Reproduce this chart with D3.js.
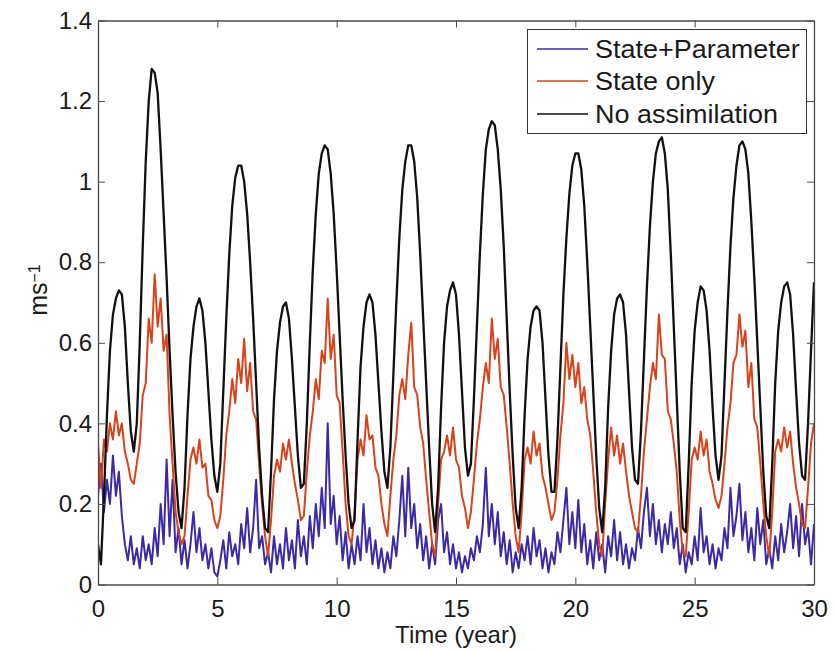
<!DOCTYPE html>
<html>
<head>
<meta charset="utf-8">
<script src="https://cdn.jsdelivr.net/npm/d3@7"></script>
<style>
  html, body { margin: 0; padding: 0; background: #ffffff; }
  svg { display: block; }
  text { font-family: "Liberation Sans", Arial, Helvetica, sans-serif; fill: #1a1a1a; }
</style>
</head>
<body>
<svg id="chart" width="836" height="651"></svg>
<script>
// ---- data (sampled every 1/8 year, 0..30) ----
const seriesNames = ["State+Parameter", "State only", "No assimilation"];
const seriesColors = ["#3b2aa6", "#d9431c", "#111111"];

const stateParam = [
  0.22,0.30,0.18,0.26,0.20,0.32,0.22,0.28,0.17,
  0.10,0.06,0.12,0.05,0.09,0.04,
  0.12,0.06,0.10,0.05,0.14,0.07,0.20,0.10,
  0.31,0.12,0.26,
  0.08,0.14,0.05,0.11,0.04,0.10,
  0.18,0.08,0.14,0.06,0.10,0.04,0.09,0.03,0.02,
  0.06,0.11,0.04,0.13,0.07,0.10,0.05,0.15,
  0.09,0.19,0.08,0.14,0.26,0.09,0.12,0.05,
  0.08,0.03,0.12,0.05,0.10,0.04,0.14,0.06,
  0.11,0.04,0.16,0.07,0.12,0.05,0.17,0.09,
  0.20,0.12,0.24,0.14,0.40,0.15,0.22,0.10,
  0.17,0.06,0.13,0.04,0.10,0.05,0.12,0.06,
  0.20,0.08,0.14,0.05,0.11,0.04,0.09,0.03,
  0.08,0.04,0.12,0.07,0.16,0.27,0.12,0.29,
  0.14,0.20,0.09,0.15,0.06,0.12,0.04,0.10,
  0.05,0.16,0.20,0.08,0.13,0.05,0.10,0.04,
  0.08,0.03,0.07,0.04,0.09,0.06,0.12,0.08,
  0.15,0.29,0.12,0.20,0.10,0.18,0.07,0.13,
  0.05,0.11,0.03,0.08,0.04,0.10,0.06,0.12,
  0.05,0.14,0.07,0.11,0.04,0.09,0.03,0.08,
  0.05,0.13,0.08,0.16,0.24,0.10,0.18,0.09,
  0.21,0.08,0.15,0.05,0.11,0.04,0.13,0.06,
  0.10,0.03,0.12,0.07,0.16,0.06,0.13,0.05,
  0.10,0.04,0.09,0.06,0.14,0.09,0.18,0.24,
  0.12,0.20,0.10,0.16,0.08,0.15,0.10,0.18,
  0.09,0.14,0.05,0.10,0.03,0.08,0.05,0.12,
  0.06,0.19,0.08,0.12,0.05,0.10,0.04,0.09,
  0.06,0.14,0.09,0.24,0.12,0.17,0.25,0.11,
  0.18,0.08,0.14,0.06,0.19,0.10,0.16,0.05,
  0.09,0.04,0.12,0.06,0.15,0.08,0.13,0.20,
  0.09,0.17,0.07,0.20,0.10,0.14,0.05,0.15
];

const stateOnly = [
  0.35,0.24,0.36,0.33,0.40,0.36,0.43,0.37,
  0.40,0.33,0.30,0.26,0.25,0.30,0.35,0.47,
  0.50,0.66,0.60,0.77,0.64,0.71,0.58,0.62,
  0.42,0.30,0.18,0.13,0.10,0.12,0.22,0.31,
  0.34,0.30,0.36,0.29,0.30,0.22,0.21,0.16,
  0.14,0.17,0.26,0.37,0.43,0.51,0.45,0.56,
  0.50,0.61,0.48,0.55,0.43,0.41,0.30,0.20,
  0.12,0.07,0.16,0.27,0.31,0.28,0.35,0.31,
  0.36,0.30,0.25,0.21,0.16,0.17,0.28,0.37,
  0.43,0.51,0.46,0.58,0.55,0.71,0.56,0.62,
  0.47,0.45,0.33,0.20,0.12,0.10,0.18,0.31,
  0.36,0.32,0.42,0.36,0.37,0.29,0.27,0.20,
  0.15,0.12,0.22,0.31,0.37,0.47,0.51,0.46,
  0.57,0.65,0.49,0.47,0.39,0.35,0.26,0.18,
  0.10,0.07,0.20,0.31,0.33,0.37,0.32,0.39,
  0.31,0.29,0.22,0.19,0.14,0.18,0.26,0.35,
  0.41,0.49,0.55,0.50,0.66,0.56,0.61,0.49,
  0.47,0.39,0.30,0.20,0.12,0.08,0.18,0.31,
  0.34,0.30,0.38,0.32,0.35,0.27,0.24,0.20,
  0.16,0.18,0.26,0.37,0.45,0.60,0.51,0.57,
  0.49,0.55,0.45,0.49,0.41,0.37,0.28,0.18,
  0.10,0.07,0.20,0.31,0.39,0.32,0.37,0.30,
  0.35,0.28,0.22,0.18,0.14,0.13,0.22,0.33,
  0.41,0.49,0.55,0.51,0.67,0.57,0.56,0.43,
  0.41,0.35,0.28,0.16,0.08,0.07,0.18,0.31,
  0.34,0.31,0.38,0.32,0.36,0.28,0.25,0.21,
  0.19,0.22,0.30,0.39,0.45,0.55,0.57,0.67,
  0.59,0.63,0.49,0.55,0.41,0.39,0.30,0.20,
  0.12,0.07,0.18,0.33,0.36,0.33,0.39,0.34,
  0.38,0.30,0.24,0.20,0.15,0.14,0.24,0.35,
  0.40
];

const noAssim = [
  0.10,0.05,0.22,0.42,0.58,0.67,0.71,0.73,
  0.72,0.64,0.50,0.38,0.33,0.40,0.60,0.84,
  1.05,1.20,1.28,1.27,1.22,1.08,0.92,0.76,
  0.58,0.42,0.28,0.18,0.14,0.24,0.42,0.56,
  0.64,0.69,0.71,0.68,0.60,0.48,0.36,0.27,
  0.23,0.30,0.48,0.66,0.82,0.94,1.01,1.04,
  1.04,1.00,0.92,0.80,0.66,0.50,0.34,0.22,
  0.14,0.13,0.28,0.46,0.58,0.65,0.69,0.70,
  0.66,0.56,0.44,0.32,0.24,0.25,0.40,0.60,
  0.78,0.92,1.02,1.07,1.09,1.08,1.02,0.92,
  0.78,0.62,0.46,0.32,0.20,0.14,0.16,0.36,
  0.54,0.64,0.70,0.72,0.70,0.62,0.50,0.38,
  0.28,0.24,0.34,0.52,0.70,0.86,0.98,1.05,
  1.09,1.09,1.05,0.96,0.82,0.66,0.50,0.34,
  0.20,0.13,0.24,0.44,0.60,0.69,0.73,0.75,
  0.72,0.62,0.48,0.34,0.27,0.30,0.46,0.64,
  0.82,0.97,1.08,1.13,1.15,1.14,1.08,0.98,
  0.84,0.66,0.48,0.32,0.19,0.14,0.24,0.42,
  0.56,0.64,0.68,0.69,0.68,0.60,0.46,0.32,
  0.23,0.23,0.36,0.54,0.72,0.86,0.97,1.04,
  1.07,1.07,1.03,0.94,0.80,0.64,0.48,0.32,
  0.19,0.13,0.24,0.44,0.58,0.67,0.71,0.72,
  0.70,0.62,0.48,0.34,0.26,0.25,0.38,0.56,
  0.74,0.89,1.00,1.07,1.10,1.11,1.07,0.98,
  0.82,0.64,0.46,0.28,0.14,0.13,0.30,0.50,
  0.63,0.70,0.74,0.73,0.68,0.58,0.44,0.32,
  0.26,0.32,0.50,0.68,0.84,0.96,1.04,1.09,
  1.10,1.08,1.02,0.90,0.76,0.60,0.44,0.28,
  0.17,0.14,0.30,0.50,0.63,0.70,0.74,0.75,
  0.72,0.62,0.48,0.35,0.27,0.26,0.40,0.58,
  0.75
];

const xTicks = [0, 5, 10, 15, 20, 25, 30];
const xTickLabels = ["0", "5", "10", "15", "20", "25", "30"];
const yTicks = [0, 0.2, 0.4, 0.6, 0.8, 1, 1.2, 1.4];
const yTickLabels = ["0", "0.2", "0.4", "0.6", "0.8", "1", "1.2", "1.4"];

// ---- layout ----
const svg = d3.select("#chart");
const W = 836, H = 651;
const margin = { left: 98, top: 20.5, right: W - 814, bottom: H - 584.5 };
const x = d3.scaleLinear().domain([0, 30]).range([margin.left, W - margin.right]);
const y = d3.scaleLinear().domain([0, 1.4]).range([H - margin.bottom, margin.top]);

const stepYears = 30 / (noAssim.length - 1);
const allSeries = [stateParam, stateOnly, noAssim];
const widths = [2.0, 2.0, 2.3];

svg.append("defs").append("clipPath").attr("id", "clip")
  .append("rect")
  .attr("x", x(0)).attr("y", y(1.4))
  .attr("width", x(30) - x(0)).attr("height", y(0) - y(1.4));

const line = d3.line()
  .x((d, i) => x(i * stepYears))
  .y(d => y(d));

const plot = svg.append("g").attr("clip-path", "url(#clip)");
allSeries.forEach((s, k) => {
  plot.append("path")
    .datum(s)
    .attr("fill", "none")
    .attr("stroke", seriesColors[k])
    .attr("stroke-width", widths[k])
    .attr("stroke-linejoin", "round")
    .attr("d", line);
});

// ---- axes (MATLAB-style box, ticks inward) ----
const axisColor = "#4a4a4a";
const tickLen = 7;
const fs = 24;

const xAxisB = d3.axisBottom(x).tickValues(xTicks).tickFormat((d, i) => xTickLabels[i])
  .tickSizeInner(-tickLen).tickSizeOuter(0).tickPadding(15);
const gxb = svg.append("g").attr("transform", `translate(0,${y(0)})`).call(xAxisB);
const xAxisT = d3.axisTop(x).tickValues(xTicks).tickFormat("")
  .tickSizeInner(-tickLen).tickSizeOuter(0);
const gxt = svg.append("g").attr("transform", `translate(0,${y(1.4)})`).call(xAxisT);
const yAxisL = d3.axisLeft(y).tickValues(yTicks).tickFormat((d, i) => yTickLabels[i])
  .tickSizeInner(-tickLen).tickSizeOuter(0).tickPadding(6);
const gyl = svg.append("g").attr("transform", `translate(${x(0)},0)`).call(yAxisL);
const yAxisR = d3.axisRight(y).tickValues(yTicks).tickFormat("")
  .tickSizeInner(-tickLen).tickSizeOuter(0);
const gyr = svg.append("g").attr("transform", `translate(${x(30)},0)`).call(yAxisR);

[gxb, gxt, gyl, gyr].forEach(g => {
  g.select(".domain").attr("stroke", axisColor).attr("stroke-width", 1.3);
  g.selectAll(".tick line").attr("stroke", axisColor).attr("stroke-width", 1);
  g.selectAll(".tick text")
    .style("font-family", '"Liberation Sans", Arial, sans-serif')
    .style("font-size", fs + "px")
    .attr("fill", "#1a1a1a");
});

// axis titles
svg.append("text")
  .attr("x", (x(0) + x(30)) / 2)
  .attr("y", 643)
  .attr("text-anchor", "middle")
  .style("font-size", "24px")
  .text("Time (year)");

const yl = svg.append("text")
  .attr("transform", `translate(47,290) rotate(-90)`)
  .attr("text-anchor", "middle")
  .style("font-size", "25px");
yl.append("tspan").text("ms");
yl.append("tspan").attr("dy", "-0.45em").style("font-size", "16px").text("\u22121");

// ---- legend ----
const lg = svg.append("g");
lg.append("rect")
  .attr("x", 527.5).attr("y", 29.5).attr("width", 279).attr("height", 104)
  .attr("fill", "#ffffff").attr("stroke", "#333").attr("stroke-width", 1);
const rowY = [49, 81, 114];
seriesNames.forEach((name, k) => {
  lg.append("line")
    .attr("x1", 537).attr("x2", 588)
    .attr("y1", rowY[k]).attr("y2", rowY[k])
    .attr("stroke", seriesColors[k]).attr("stroke-width", 1.5);
  lg.append("text")
    .attr("transform", `translate(595,${rowY[k]}) scale(1.08,1)`)
    .attr("dy", "0.36em")
    .style("font-size", "25px")
    .text(name);
});
</script>
</body>
</html>
